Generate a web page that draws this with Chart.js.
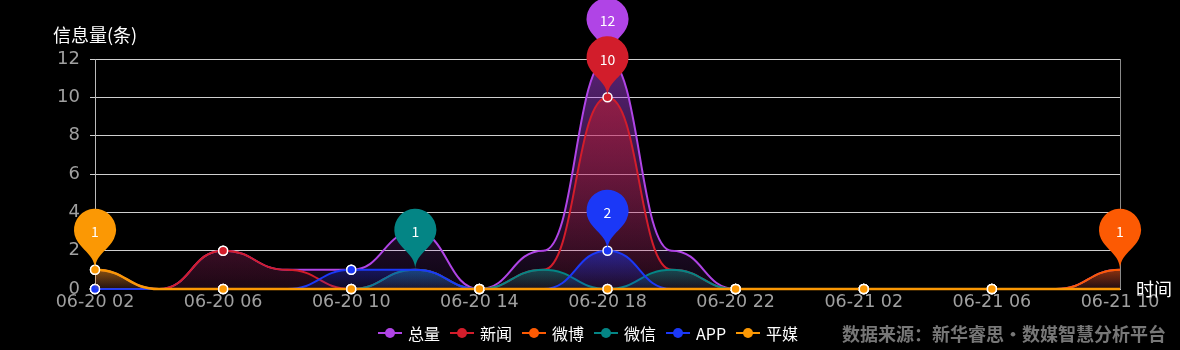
<!DOCTYPE html>
<html>
<head>
<meta charset="utf-8">
<script src="https://cdn.jsdelivr.net/npm/chart.js@4.4.1/dist/chart.umd.min.js"></script>
<style>
body{margin:0;background:#000;}
#wrap{position:relative;width:1180px;height:350px;background:#000;overflow:hidden;font-family:"Microsoft YaHei","Noto Sans CJK SC",sans-serif;}
#c{position:absolute;left:0;top:0;}
.ttl{position:absolute;color:#fff;font-size:18px;line-height:20px;white-space:nowrap;}
#legend{position:absolute;left:378px;top:323px;height:20px;display:flex;align-items:center;gap:10px;color:#fff;font-size:16px;line-height:20px;white-space:nowrap;}
#legend .li{display:flex;align-items:center;}
#legend .ico{position:relative;display:inline-block;width:24px;height:14px;margin-right:6px;}
#legend .ico:before{content:'';position:absolute;left:0;right:0;top:6px;height:2px;background:var(--c);}
#legend .ico:after{content:'';position:absolute;left:7px;top:2px;width:10px;height:10px;border-radius:50%;background:var(--c);}
#src{position:absolute;left:842px;top:322px;color:#777;font-size:18px;font-weight:bold;line-height:22px;white-space:nowrap;}
</style>
</head>
<body>
<div id="wrap">
  <canvas id="c" width="1180" height="350"></canvas>
  <div class="ttl" style="left:53px;top:24px">信息量(条)</div>
  <div class="ttl" style="left:1136px;top:278px">时间</div>
  <div id="legend"></div>
  <div id="src">数据来源：新华睿思・数媒智慧分析平台</div>
</div>
<script>
// 2小时一个点
var LABELS=['06-20 02','06-20 04','06-20 06','06-20 08','06-20 10','06-20 12','06-20 14','06-20 16','06-20 18','06-20 20','06-20 22','06-21 00','06-21 02','06-21 04','06-21 06','06-21 08','06-21 10'];
var NAMES=['总量','新闻','微博','微信','APP','平媒'];
var COLORS=['#b044e6','#d21d2b','#fc5a03','#048585','#1b38f7','#fb9804'];
var TOTAL =[1,0,2,1,1,3,0,2,12,2,0,0,0,0,0,0,1];
var NEWS  =[0,0,2,1,0,1,0,1,10,1,0,0,0,0,0,0,0];
var WEIBO =[0,0,0,0,0,0,0,0,0,0,0,0,0,0,0,0,1];
var WECHAT=[0,0,0,0,0,1,0,1,0,1,0,0,0,0,0,0,0];
var APP   =[0,0,0,0,1,1,0,0,2,0,0,0,0,0,0,0,0];
var PRINT =[1,0,0,0,0,0,0,0,0,0,0,0,0,0,0,0,0];
var SERIES=[TOTAL,NEWS,WEIBO,WECHAT,APP,PRINT];
var Y_MAX=12, Y_STEP=2;

var rgba=function(hex,a){var n=parseInt(hex.slice(1),16);return 'rgba('+(n>>16&255)+','+(n>>8&255)+','+(n&255)+','+a+')';};

// legend (html)
document.getElementById('legend').innerHTML=NAMES.map(function(n,i){
  return '<span class="li"><i class="ico" style="--c:'+COLORS[i]+'"></i>'+n+'</span>';
}).join('');

function areaFill(i){
  return function(ctx){
    var ch=ctx.chart, a=ch.chartArea; if(!a) return rgba(COLORS[i],0.3);
    var mx=Math.max.apply(null,SERIES[i]); if(!mx) return rgba(COLORS[i],0.3);
    var top=ch.scales.y.getPixelForValue(mx);
    var g=ch.ctx.createLinearGradient(0,top,0,a.bottom);
    g.addColorStop(0,rgba(COLORS[i],0.5));
    g.addColorStop(1,rgba(COLORS[i],0.08));
    return g;
  };
}

// echarts-like smoothing: horizontal tangents at every point
var flatCurve={id:'flatCurve',beforeDraw:function(chart){
  chart.getSortedVisibleDatasetMetas().forEach(function(meta){
    var pts=meta.data;
    meta.dataset.updateControlPoints(chart.chartArea,'x');
    pts.forEach(function(p,i){
      var prev=pts[i-1]||p, next=pts[i+1]||p;
      p.cp1x=p.x-(p.x-prev.x)/2; p.cp1y=p.y;
      p.cp2x=p.x+(next.x-p.x)/2; p.cp2y=p.y;
    });
  });
}};

function pin(ctx,x,y,color,txt){
  var w=42,h=70,r=w/2;
  var dy=r*r/(h-r), cy=y-h+r+dy;
  var ang=Math.asin(dy/r), dx=Math.cos(ang)*r;
  var tx=Math.sin(ang), ty=Math.cos(ang);
  var c1=r*0.6, c2=r*0.7;
  ctx.beginPath();
  ctx.moveTo(x-dx,cy+dy);
  ctx.arc(x,cy,r,Math.PI-ang,Math.PI*2+ang);
  ctx.bezierCurveTo(x+dx-tx*c1,cy+dy+ty*c1,x,y-c2,x,y);
  ctx.bezierCurveTo(x,y-c2,x-dx+tx*c1,cy+dy+ty*c1,x-dx,cy+dy);
  ctx.closePath();
  ctx.fillStyle=color; ctx.fill();
  ctx.fillStyle='#fff'; ctx.font='14px "Microsoft YaHei","Noto Sans CJK SC",sans-serif';
  ctx.textAlign='center'; ctx.textBaseline='middle';
  ctx.fillText(txt,x,cy+2);
}

var extras={id:'extras',afterDraw:function(chart){
  var ctx=chart.ctx, a=chart.chartArea;
  ctx.save();
  ctx.strokeStyle='#8a8a8a'; ctx.lineWidth=1;
  ctx.beginPath(); ctx.moveTo(Math.round(a.right)+0.5,a.top); ctx.lineTo(Math.round(a.right)+0.5,a.bottom); ctx.stroke();
  SERIES.forEach(function(d,i){
    var mx=Math.max.apply(null,d); if(!mx) return;
    var idx=d.indexOf(mx);
    var p=chart.getDatasetMeta(i).data[idx];
    pin(ctx,p.x,p.y,COLORS[i],String(mx));
  });
  ctx.restore();
}};

var NUMFONT='"DejaVu Sans","Noto Sans CJK SC",sans-serif';
new Chart(document.getElementById('c'),{
  type:'line',
  data:{labels:LABELS,datasets:SERIES.map(function(d,i){return {
    label:NAMES[i],data:d,order:SERIES.length-i,
    borderColor:COLORS[i],borderWidth:i===5?2.5:2,
    backgroundColor:areaFill(i),fill:'origin',tension:0.4,clip:false,
    pointRadius:function(c){return c.dataIndex%2===0&&c.dataIndex<LABELS.length-1?4.5:0;},
    pointBackgroundColor:COLORS[i],pointBorderColor:'#fff',pointBorderWidth:1.5,pointHoverRadius:0
  };})},
  options:{
    responsive:false,animation:false,events:[],
    layout:{padding:{left:0,right:60,top:59,bottom:0}},
    plugins:{legend:{display:false},tooltip:{enabled:false}},
    scales:{
      x:{offset:false,grid:{display:false,drawTicks:false},border:{display:true,color:'#ccc'},
        ticks:{autoSkip:false,maxRotation:0,minRotation:0,padding:3,color:'#a0a0a0',font:{family:NUMFONT,size:17.5},
          callback:function(v,i){return i%2===0?LABELS[i]:'';}},
        afterFit:function(s){s.height=61;}},
      y:{min:0,max:Y_MAX,ticks:{stepSize:Y_STEP,padding:10,color:'#a0a0a0',font:{family:NUMFONT,size:18}},
        grid:{color:'#cfcfcf',lineWidth:1,tickLength:5,drawTicks:true},border:{display:true,color:'#bbb'},
        afterFit:function(s){s.width=95;}}
    }
  },
  plugins:[flatCurve,extras]
});
</script>
</body>
</html>
